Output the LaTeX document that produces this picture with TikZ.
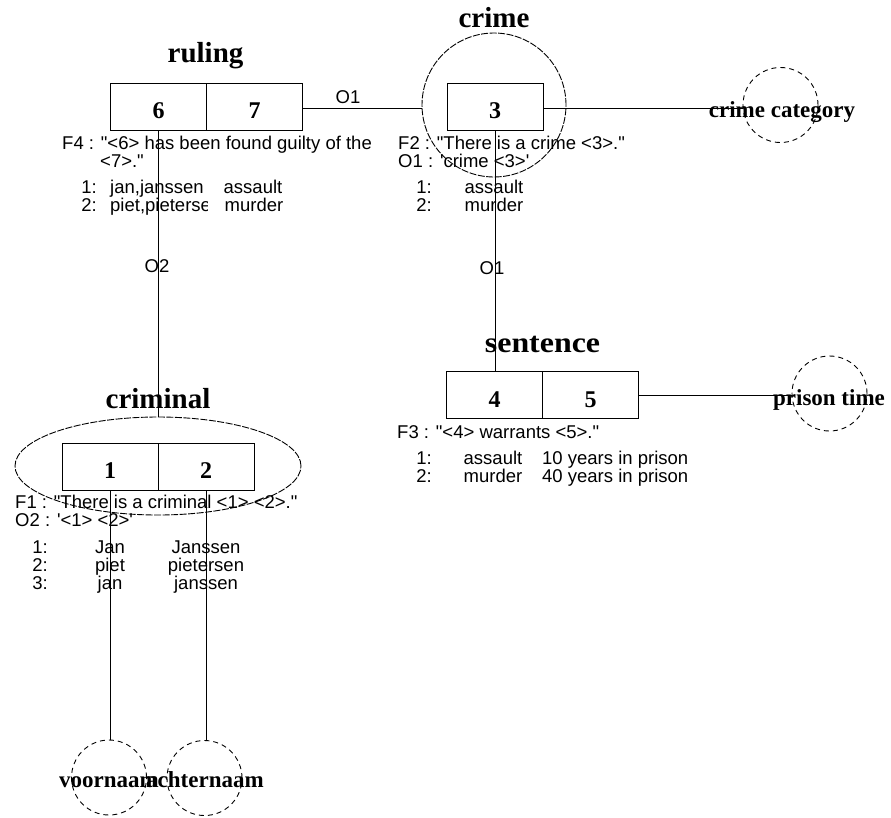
\documentclass[tikz,border=0pt]{standalone}
\usepackage{graphicx}
\usepackage{fontspec}
\setmainfont{Liberation Serif}
\newfontfamily\lsans[Ligatures=TeXOff]{Liberation Sans}
\usetikzlibrary{shapes.geometric}
\begin{document}
\begin{tikzpicture}[x=1pt,y=-1pt,
  cell/.style={draw, line width=1pt, minimum width=96pt, minimum height=47pt, inner sep=0pt,
    text height=24pt, text depth=0pt, font=\fontsize{24}{24}\selectfont\bfseries},
  titletxt/.style={anchor=base, inner sep=0pt, font=\fontsize{29}{29}\selectfont\bfseries},
  attr/.style={draw, circle, dash pattern=on 5pt off 4pt, line width=0.9pt, minimum size=75pt, inner sep=0pt},
  attrlbl/.style={anchor=base, inner sep=0pt, font=\fontsize{23}{23}\selectfont\bfseries},
  txt/.style={inner sep=0pt, font=\lsans\fontsize{18.5}{18}\selectfont},
  conn/.style={line width=1pt},
  objshape/.style={draw, dash pattern=on 7pt off 1.5pt, line width=0.9pt, inner sep=0pt}
]
\useasboundingbox (0,0) rectangle (891,817);

% ---------- ruling ----------
\node[cell] (r6) at (158.5,106.5) {6};
\node[cell] (r7) at (254.5,106.5) {7};
\node[titletxt] (tr) at (205.5,62) {ruling};

% ---------- crime ----------
\node[objshape, circle, minimum size=144pt] (crC) at (494,105) {};
\node[cell] (c3) at (495,106.5) {3};
\node[titletxt] (tc) at (494,27) {crime};
\node[attr] (cc) at (780.5,105) {};
\draw[conn] ([yshift=-2pt]c3.east) -- ([yshift=-2pt]c3.east -| cc.west);
\node[attrlbl] (ccl) at (782,117) {crime category};

\draw[conn] ([yshift=-2pt]r7.east) -- ([yshift=-2pt]r7.east -| crC.west);
\node[txt] (o1a) at (348,97) {O1};

% ---------- sentence ----------
\node[cell] (s4) at (494.5,395) {4};
\node[cell] (s5) at (590.5,395) {5};
\node[titletxt] (ts) at (542.5,352) {\scalebox{1.1}[1]{sentence}};
\node[attr] (pt) at (829.5,393.5) {};
\draw[conn] (s5.east) -- (s5.east -| pt.west);
\node[attrlbl] (ptl) at (829,405) {prison time};

\draw[conn] (c3.south) -- (c3.south |- s4.north);
\node[txt] (o1b) at (492,268) {O1};

% ---------- criminal ----------
\node[objshape, ellipse, minimum width=286pt, minimum height=98pt] (kE) at (158,466) {};
\node[cell] (k1) at (110,466.5) {1};
\node[cell] (k2) at (206,466.5) {2};
\node[titletxt] (tk) at (158,408) {criminal};

\draw[conn] (r6.south) -- (r6.south |- kE.north);
\node[txt] (o2) at (157,266) {O2};

\node[attr] (vn) at (109,777.5) {};
\node[attr] (an) at (204.5,778) {};
\draw[conn] (k1.south) -- (k1.south |- vn.north);
\draw[conn] (k2.south) -- (k2.south |- an.north);
\node[attrlbl] (vnl) at (109,787) {voornaam};
\node[attrlbl] (anl) at (205,787) {achternaam};

% ---------- texts: ruling ----------
\node[txt, anchor=base west] (f4) at (62,149) {F4 : "<6> has been found guilty of the};
\node[txt, anchor=base west] (f4b) at (100,167) {<7>."};
\node[txt, anchor=base east] (rr1) at (97,193) {1:};
\node[txt, anchor=base west] (rr1a) at (110,193) {jan,janssen};
\node[txt, anchor=base] (rr1b) at (253,193) {assault};
\node[txt, anchor=base east] (rr2) at (97,211.5) {2:};
\begin{scope}
  \clip (108,196) rectangle (207,220);
  \node[txt, anchor=base west] (rr2a) at (110,211.5) {piet,pieterse};
\end{scope}
\node[txt, anchor=base] (rr2b) at (254,211.5) {murder};

% ---------- texts: crime ----------
\node[txt, anchor=base west] (f2) at (398,149) {F2 : "There is a crime <3>."};
\node[txt, anchor=base west] (o1t) at (398,167) {O1 : 'crime <3>'};
\node[txt, anchor=base east] (cr1) at (432,193) {1:};
\node[txt, anchor=base] (cr1a) at (494,193) {assault};
\node[txt, anchor=base east] (cr2) at (432,211.5) {2:};
\node[txt, anchor=base] (cr2a) at (494,211.5) {murder};

% ---------- texts: sentence ----------
\node[txt, anchor=base west] (f3) at (397,438.5) {F3 : "<4> warrants <5>."};
\node[txt, anchor=base east] (sr1) at (432,464) {1:};
\node[txt, anchor=base] (sr1a) at (493,464) {assault};
\node[txt, anchor=base west] (sr1b) at (542,464) {10 years in prison};
\node[txt, anchor=base east] (sr2) at (432,482) {2:};
\node[txt, anchor=base] (sr2a) at (493,482) {murder};
\node[txt, anchor=base west] (sr2b) at (542,482) {40 years in prison};

% ---------- texts: criminal ----------
\node[txt, anchor=base west] (f1) at (15,508.5) {F1 : "There is a criminal <1> <2>."};
\node[txt, anchor=base west] (o2t) at (15,526) {O2 : '<1> <2>'};
\node[txt, anchor=base east] (kr1) at (48,553) {1:};
\node[txt, anchor=base] (kr1a) at (110,553) {Jan};
\node[txt, anchor=base] (kr1b) at (206,553) {Janssen};
\node[txt, anchor=base east] (kr2) at (48,571) {2:};
\node[txt, anchor=base] (kr2a) at (110,571) {piet};
\node[txt, anchor=base] (kr2b) at (206,571) {pietersen};
\node[txt, anchor=base east] (kr3) at (48,589) {3:};
\node[txt, anchor=base] (kr3a) at (110,589) {jan};
\node[txt, anchor=base] (kr3b) at (206,589) {janssen};
\end{tikzpicture}
\end{document}
